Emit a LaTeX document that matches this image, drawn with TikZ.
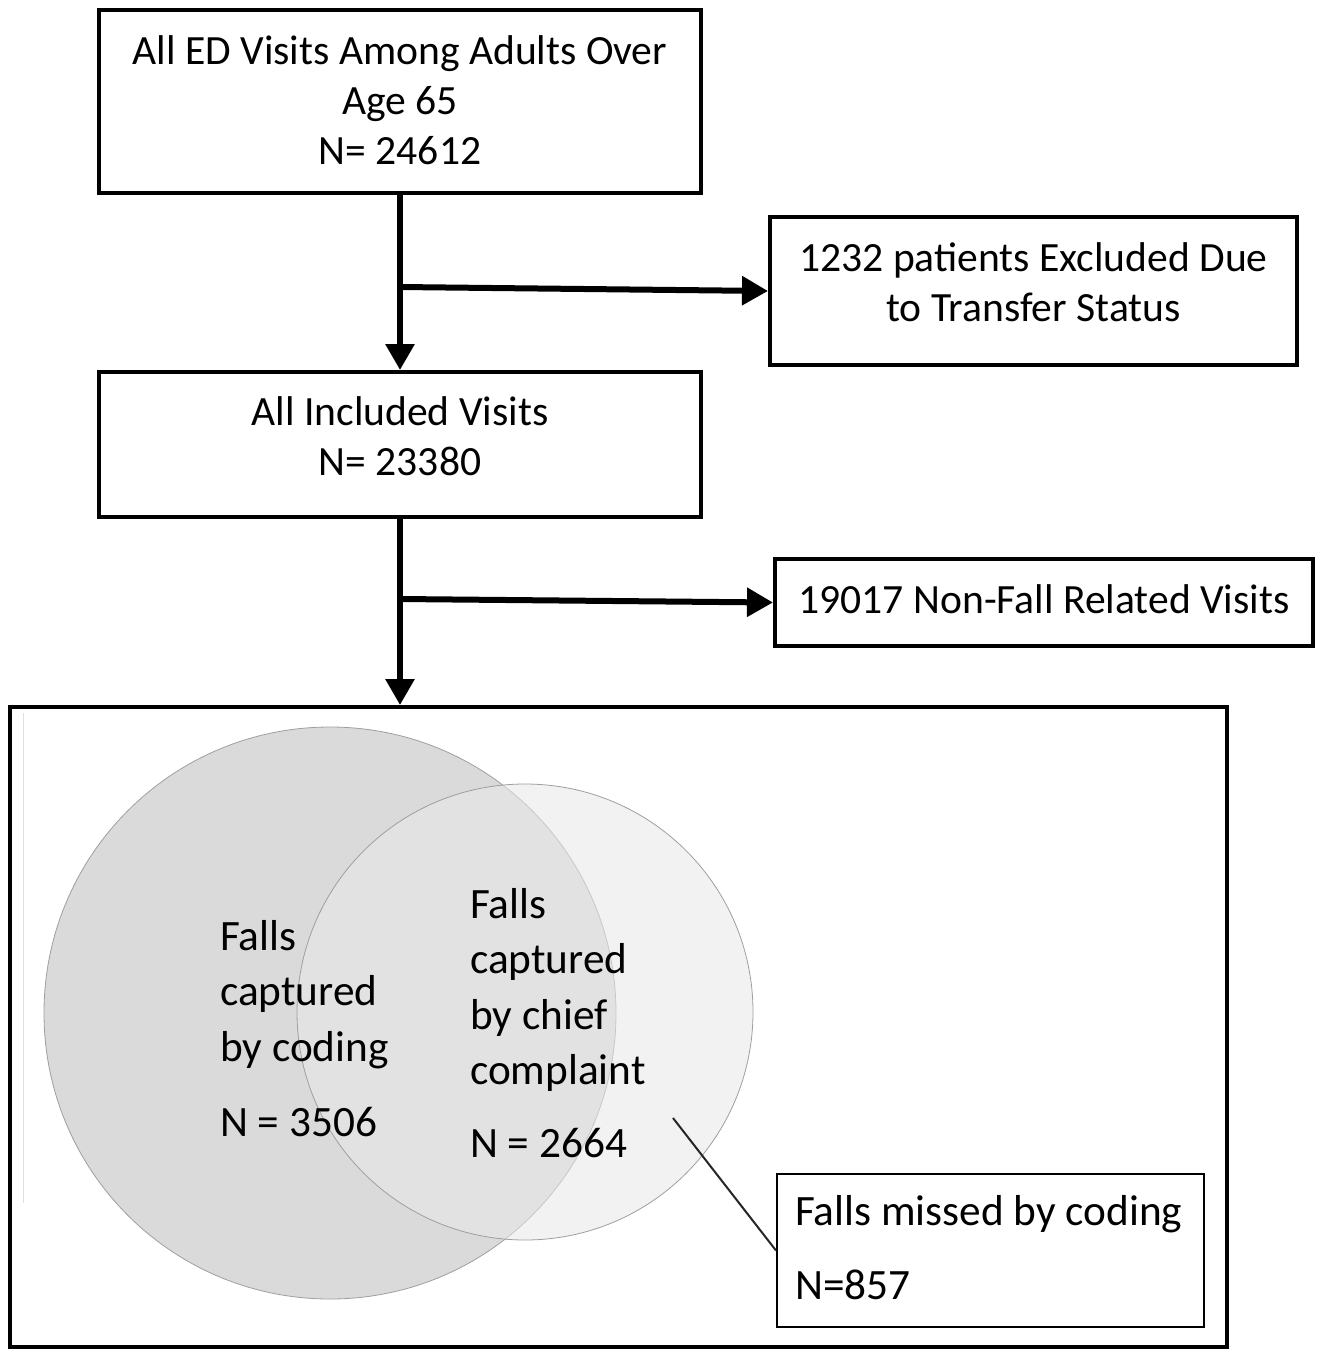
\documentclass[tikz,border=0pt]{standalone}
\usepackage{fontspec}
\setmainfont{Carlito}
\usetikzlibrary{arrows.meta}
\begin{document}
\begin{tikzpicture}[x=1pt,y=-1pt,
 box/.style={draw=black,line width=4pt,fill=white,inner sep=0pt},
 flow/.style={line width=6pt,-{Triangle[length=26pt,width=28pt]}},
 txt/.style={font=\fontsize{41.6}{50}\selectfont,align=center,inner sep=0pt},
 venn/.style={font=\fontsize{43.3}{55.5}\selectfont,align=left,anchor=north west,inner sep=0pt}]
\useasboundingbox (0,0) rectangle (1321,1349);
% flow boxes
\node[box,minimum width=602pt,minimum height=183pt] (b1) at (400,101.5) {};
\node[box,minimum width=527pt,minimum height=148pt] (b2) at (1033.5,291) {};
\node[box,minimum width=602pt,minimum height=145pt] (b3) at (400,444.5) {};
\node[box,minimum width=538pt,minimum height=87pt] (b4) at (1044,602.5) {};
\node[box,minimum width=1217pt,minimum height=640pt] (big) at (618.5,1027) {};
% texts
\node[txt] (t1) at (400,100) {All ED Visits Among Adults Over\\Age 65\\N= 24612};
\node[txt] (t2) at (1033.5,282) {1232 patients Excluded Due\\to Transfer Status};
\node[txt] (t3) at (400,436) {All Included Visits\\N= 23380};
\node[txt] (t4) at (1044,599) {19017 Non-Fall Related Visits};
% connectors
\draw[flow] (b1.south) -- (b3.north);
\coordinate (j1) at (400,287);
\draw[flow] (j1) -- (b2.west);
\draw[flow] (b3.south) -- (b3.south |- big.north);
\coordinate (j2) at (400,599);
\draw[flow] (j2) -- (b4.west);
% venn
\draw[gray!25,line width=1pt] (23,713) -- (23,1203);
\node[circle,draw=gray!75,line width=0.8pt,fill=gray!29,minimum size=572pt,inner sep=0pt] (c1) at (330,1013) {};
\node[circle,draw=gray!75,line width=0.8pt,fill={rgb,1:red,0.915;green,0.915;blue,0.915},fill opacity=0.55,minimum size=456pt,inner sep=0pt] (c2) at (525,1012) {};
\node[venn] (v1) at (220,920) {Falls\\captured\\by coding\\[20pt]N = 3506};
\node[venn] (v2) at (470,888) {Falls\\captured\\by chief\\complaint\\[17pt]N = 2664};
% callout
\node[draw=black,line width=2pt,fill=white,minimum width=427pt,minimum height=153pt,inner sep=0pt] (co) at (990.5,1250.5) {};
\node[venn,font=\fontsize{43.3}{74}\selectfont] (v3) at (795,1195) {Falls missed by coding\\N=857};
\coordinate (p) at (673,1118);
\draw[line width=2pt,black!85] (p) -- (co.west);
\end{tikzpicture}
\end{document}
